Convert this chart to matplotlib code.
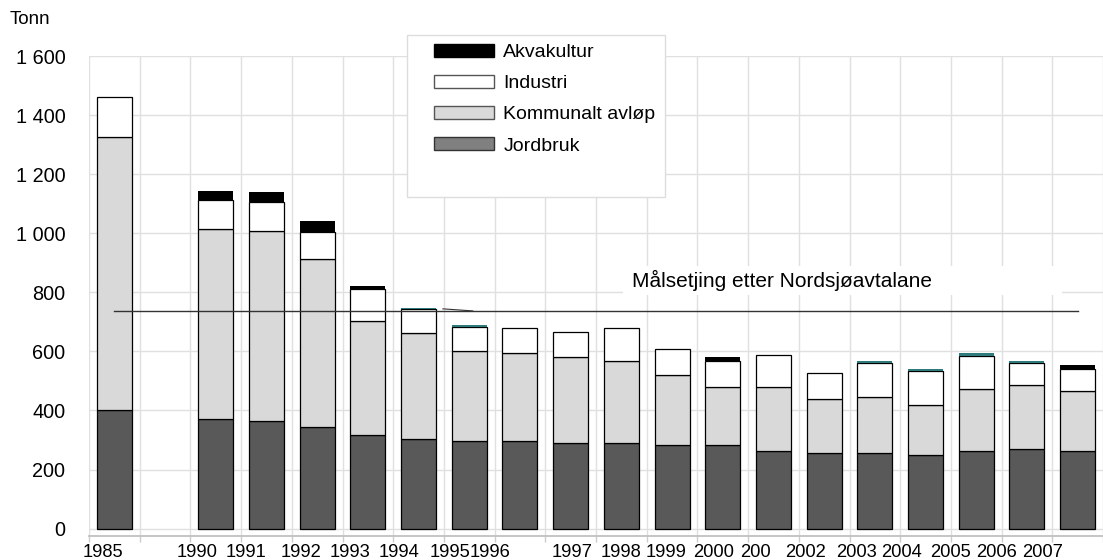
import numpy as np
import matplotlib
matplotlib.use("Agg")
import matplotlib.pyplot as plt
from matplotlib.patches import Patch, Rectangle

plt.rcParams['font.family'] = ['Liberation Sans', 'DejaVu Sans']

# Tonn per year
years = [1985, 1990, 1991, 1992, 1993, 1994, 1995, 1996, 1997, 1998,
         1999, 2000, 2001, 2002, 2003, 2004, 2005, 2006, 2007]
tick_labels = ["1985", "1990", "1991", "1992", "1993", "1994", "1995", "1996", "1997", "1998",
               "1999", "2000", "200", "2002", "2003", "2004", "2005", "2006", "2007"]
jordbruk = [402, 372, 364, 345, 318, 303, 297, 297, 290, 290, 283, 283, 263, 256, 256, 249, 263, 270, 263]
kommunalt = [924, 642, 643, 567, 385, 359, 305, 297, 291, 278, 237, 196, 216, 184, 190, 169, 211, 216, 203]
industri = [136, 100, 100, 93, 108, 80, 80, 85, 84, 111, 88, 87, 108, 87, 115, 116, 112, 75, 73]
akvakultur = [0, 30, 31, 38, 9, 6, 8, 0, 0, 0, 0, 15, 0, 0, 6, 6, 8, 6, 15]
target = 737

# slot positions: one empty slot between 1985 and 1990
x = np.array([0] + list(range(2, 20)))
# the year labels sit a bit left of the bars in the original
label_shift = [-0.22, -0.36, -0.41, -0.32, -0.36, -0.39, -0.37, -0.59, 0.02, 0.0,
               -0.12, -0.18, -0.36, -0.36, -0.37, -0.47, -0.51, -0.61, -0.69]

W, H = 1103, 560
fig = plt.figure(figsize=(W / 100, H / 100), dpi=100)
ax = fig.add_axes([89 / W, 24 / H, 1014 / W, 480 / H])

bw = 0.69
jb = np.array(jordbruk)
kb = jb + np.array(kommunalt)
ib = kb + np.array(industri)

ax.bar(x, jordbruk, width=bw, color='#595959', edgecolor='black', linewidth=0.9, zorder=3)
ax.bar(x, kommunalt, width=bw, bottom=jb, color='#d9d9d9', edgecolor='black', linewidth=0.9, zorder=3)
ax.bar(x, industri, width=bw, bottom=kb, color='white', edgecolor='black', linewidth=0.9, zorder=3)
akva_col = ['#2f7a7a' if 0 < v < 9 else 'black' for v in akvakultur]
ax.bar(x, akvakultur, width=bw, bottom=ib, color=akva_col, linewidth=0, zorder=3)

# target line
ax.plot([x[0], x[-1]], [target, target], color='#333333', lw=1.0, zorder=4)
ax.plot([6.48, 7.07], [744, target], color='#333333', lw=0.8, zorder=4)
ax.add_patch(Rectangle((10.03, 790), 8.66, 100, facecolor='white', edgecolor='none', zorder=2))
ax.text(10.21, 839, "Målsetjing etter Nordsjøavtalane", fontsize=15, va='center', ha='left', zorder=5)

ax.set_xlim(-0.5, 19.5)
ax.set_ylim(-25, 1600)

yt = np.arange(0, 1601, 200)
ax.set_yticks(yt)
ax.set_yticklabels([f"{v:,}".replace(",", " ") for v in yt], fontsize=14.3)
ax.tick_params(axis='y', length=0, pad=17)
for v in yt:
    ax.axhline(v, color='#e0e0e0', lw=1.0, zorder=1)
for b in np.arange(-0.5, 19.6, 1):
    ax.axvline(b, color='#e0e0e0', lw=1.0, zorder=1)

ax.set_xticks(np.arange(-0.5, 19.6, 1))
ax.set_xticklabels([])
ax.tick_params(axis='x', length=4, color='#cccccc', width=1)
trans = ax.get_xaxis_transform()
for xi, lab, s in zip(x, tick_labels, label_shift):
    ax.text(xi + s, -0.034, lab, transform=trans, ha='center', va='center', fontsize=13.2)

for side in ['top', 'right', 'left']:
    ax.spines[side].set_visible(False)
ax.spines['bottom'].set_color('#c0c0c0')
ax.spines['bottom'].set_linewidth(1.3)

fig.text(10 / W, 1 - 19 / H, "Tonn", fontsize=13.5, ha='left', va='center')

# legend with its own white box
fig.patches.append(Rectangle((407 / W, 1 - 197 / H), 258 / W, 162 / H, transform=fig.transFigure,
                             facecolor='white', edgecolor='#dddddd', lw=1.0, zorder=2))
handles = [Patch(facecolor='black', edgecolor='black', label='Akvakultur'),
           Patch(facecolor='white', edgecolor='#555555', label='Industri'),
           Patch(facecolor='#d9d9d9', edgecolor='#555555', label='Kommunalt avløp'),
           Patch(facecolor='#808080', edgecolor='#333333', label='Jordbruk')]
leg = fig.legend(handles=handles, loc='upper left', bbox_to_anchor=(434 / W, 1 - 44 / H),
                 frameon=False, fontsize=14, handlelength=3.1, handleheight=0.62,
                 handletextpad=0.46, labelspacing=0.72, borderpad=0, borderaxespad=0)
leg.set_zorder(5)

fig.savefig("out.png", dpi=100)
